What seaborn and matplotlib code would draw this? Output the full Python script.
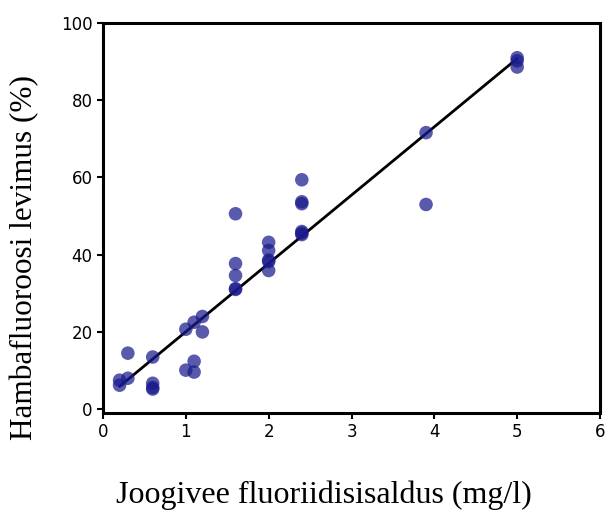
import matplotlib
matplotlib.use("Agg")
import matplotlib.pyplot as plt
import seaborn as sns
import pandas as pd

# Data
fluoride = [0.2, 0.2, 0.3, 0.3, 0.6, 0.6, 0.6, 0.6,
            1.0, 1.0, 1.1, 1.1, 1.1, 1.2, 1.2,
            1.6, 1.6, 1.6, 1.6, 1.6,
            2.0, 2.0, 2.0, 2.0, 2.0,
            2.4, 2.4, 2.4, 2.4, 2.4, 2.4,
            3.9, 3.9, 5.0, 5.0, 5.0]
fluorosis = [7.5, 6.2, 8.0, 14.5, 13.5, 6.7, 5.6, 5.2,
             10.1, 20.7, 12.4, 9.6, 22.5, 24.0, 20.0,
             50.6, 37.7, 34.6, 31.0, 31.2,
             43.2, 41.1, 38.2, 35.9, 38.6,
             59.4, 53.7, 53.2, 46.0, 45.2, 45.6,
             71.6, 53.0, 91.0, 88.6, 90.2]
fit_x = [0.2, 5.0]
fit_y = [5.9, 90.8]
xticks = [0, 1, 2, 3, 4, 5, 6]
yticks = [0, 20, 40, 60, 80, 100]

df = pd.DataFrame({"x": fluoride, "y": fluorosis})
fit = pd.DataFrame({"x": fit_x, "y": fit_y})

sns.set_style("white")
fig = plt.figure(figsize=(6.05, 5.11), dpi=100)
ax = fig.add_axes([103/605, 1 - 413/511, 497/605, 390/511])

sns.lineplot(data=fit, x="x", y="y", ax=ax, color="black", linewidth=2, zorder=2)
sns.scatterplot(data=df, x="x", y="y", ax=ax, color="#1a1a8c", alpha=0.72,
                s=95, edgecolor="none", zorder=3)

ax.set_xlim(0, 6)
ax.set_ylim(-1, 100)
ax.set_xticks(xticks)
ax.set_yticks(yticks)
ax.set_xlabel("")
ax.set_ylabel("")
for sp in ax.spines.values():
    sp.set_visible(True)
    sp.set_color("black")
    sp.set_linewidth(2.2)
ax.tick_params(axis="both", direction="out", length=4, width=1.5,
               labelsize=12, colors="black", left=True, bottom=True)
for lab in ax.get_xticklabels() + ax.get_yticklabels():
    lab.set_family("DejaVu Sans")

fig.text(0.535, 1 - 495/511, "Joogivee fluoriidisisaldus (mg/l)", ha="center", va="center",
         fontsize=23, family="Liberation Serif", color="black")
fig.text(25/605, 1 - 258/511, "Hambafluoroosi levimus (%)", ha="center", va="center",
         rotation=90, fontsize=22.5, family="Liberation Serif", color="black")

fig.savefig("out.png", dpi=100)
